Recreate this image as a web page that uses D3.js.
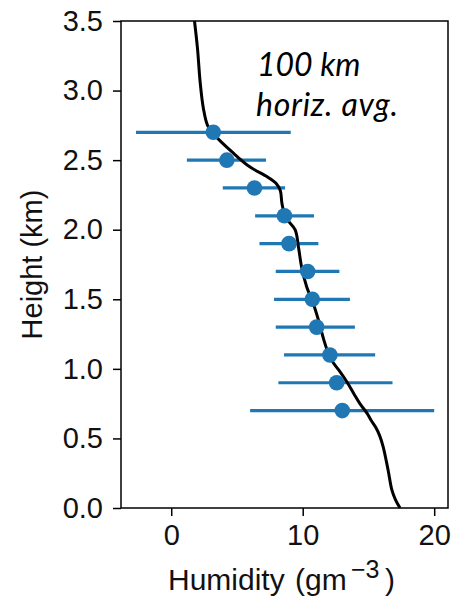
<!DOCTYPE html>
<html><head><meta charset="utf-8">
<script src="https://cdn.jsdelivr.net/npm/d3@7"></script>
<style>body{margin:0;background:#fff}svg{display:block}</style>
</head><body>
<svg id="c" width="451" height="603"></svg>
<script>
// Observations (points with horizontal error bars)
const heights = [2.7, 2.5, 2.3, 2.1, 1.9, 1.7, 1.5, 1.3, 1.1, 0.9, 0.7];
const humidity = [3.2, 4.23, 6.33, 8.61, 8.96, 10.38, 10.73, 11.06, 12.07, 12.58, 13.01];
const errLow = [-2.68, 1.19, 3.92, 6.38, 6.71, 7.95, 7.82, 7.95, 8.58, 8.15, 6.0];
const errHigh = [9.09, 7.21, 8.66, 10.86, 11.19, 12.79, 13.59, 13.97, 15.51, 16.83, 20.0];
// 100 km horizontal average profile
const profileHeight = [0.0, 0.06, 0.13, 0.27, 0.44, 0.52, 0.58, 0.63, 0.68, 0.75, 0.82, 0.9, 0.99, 1.04, 1.1, 1.21, 1.35, 1.47, 1.59, 1.73, 1.88, 2.0, 2.09, 2.19, 2.28, 2.33, 2.38, 2.45, 2.55, 2.69, 2.75, 2.87, 3.06, 3.3, 3.5];
const profileHum = [17.4, 17.05, 16.78, 16.5, 16.12, 15.85, 15.55, 15.2, 14.9, 14.35, 13.9, 13.4, 12.75, 12.35, 12.0, 11.6, 11.2, 10.8, 10.3, 9.92, 9.67, 9.42, 8.7, 8.42, 8.3, 8.0, 7.3, 6.0, 4.73, 3.2, 2.76, 2.45, 2.2, 2.0, 1.77];
const xTicks = [0, 10, 20];
const yTicks = [0, 0.5, 1.0, 1.5, 2.0, 2.5, 3.0, 3.5];

const svg = d3.select("#c");
const L = 121, R = 448, T = 21, B = 508;
const x = d3.scaleLinear().domain([-3.82, 21.05]).range([L, R]);
const y = d3.scaleLinear().domain([0, 3.5]).range([B, T]);
const blue = "#1f77b4";
const font = "'Liberation Sans', Arial, sans-serif";

// error bars
svg.append("g").selectAll("line").data(heights).join("line")
  .attr("x1", (d, i) => x(errLow[i])).attr("x2", (d, i) => x(errHigh[i]))
  .attr("y1", d => y(d)).attr("y2", d => y(d))
  .attr("stroke", blue).attr("stroke-width", 3.2);

// profile line
const prof = profileHeight.map((h, i) => [profileHum[i], h]);
svg.append("path").datum(prof)
  .attr("d", d3.line().x(d => x(d[0])).y(d => y(d[1])).curve(d3.curveCatmullRom))
  .attr("fill", "none").attr("stroke", "#000").attr("stroke-width", 3);

// points
svg.append("g").selectAll("circle").data(heights).join("circle")
  .attr("cx", (d, i) => x(humidity[i])).attr("cy", d => y(d)).attr("r", 7.8)
  .attr("fill", blue);

// frame
svg.append("rect").attr("x", L).attr("y", T).attr("width", R - L).attr("height", B - T)
  .attr("fill", "none").attr("stroke", "#000").attr("stroke-width", 1.5);

// axes
const xa = svg.append("g").attr("transform", `translate(0,${B})`)
  .call(d3.axisBottom(x).tickValues(xTicks).tickFormat(d3.format("d")).tickSize(8).tickPadding(8));
const ya = svg.append("g").attr("transform", `translate(${L},0)`)
  .call(d3.axisLeft(y).tickValues(yTicks).tickFormat(d3.format(".1f")).tickSize(8).tickPadding(10));
[xa, ya].forEach(a => {
  a.select(".domain").remove();
  a.selectAll(".tick line").attr("stroke", "#000").attr("stroke-width", 1.5);
  a.selectAll(".tick text").attr("font-family", font).attr("font-size", 29).attr("fill", "#111");
});

// axis labels
const xl = svg.append("text").attr("y", 590)
  .attr("font-family", font).attr("font-size", 30).attr("fill", "#111");
xl.append("tspan").attr("x", 168).text("Humidity");
xl.append("tspan").attr("x", 295).text("(gm");
xl.append("tspan").attr("x", 351).attr("dy", -12).attr("font-size", 25).text("\u22123");
xl.append("tspan").attr("x", 385).attr("dy", 12).text(")");

svg.append("text").attr("transform", `translate(42,${(T+B)/2}) rotate(-90)`)
  .attr("text-anchor", "middle").attr("font-family", font).attr("font-size", 29).attr("fill", "#111")
  .text("Height (km)");

// annotation
const ann = svg.append("text").attr("font-family", "Lato, 'Open Sans', sans-serif")
  .attr("font-style", "italic").attr("font-size", 32).attr("fill", "#000");
ann.append("tspan").attr("x", 257).attr("y", 76).text("100 km");
ann.append("tspan").attr("x", 256).attr("y", 116).attr("textLength", 142).text("horiz. avg.");
</script>
</body></html>
